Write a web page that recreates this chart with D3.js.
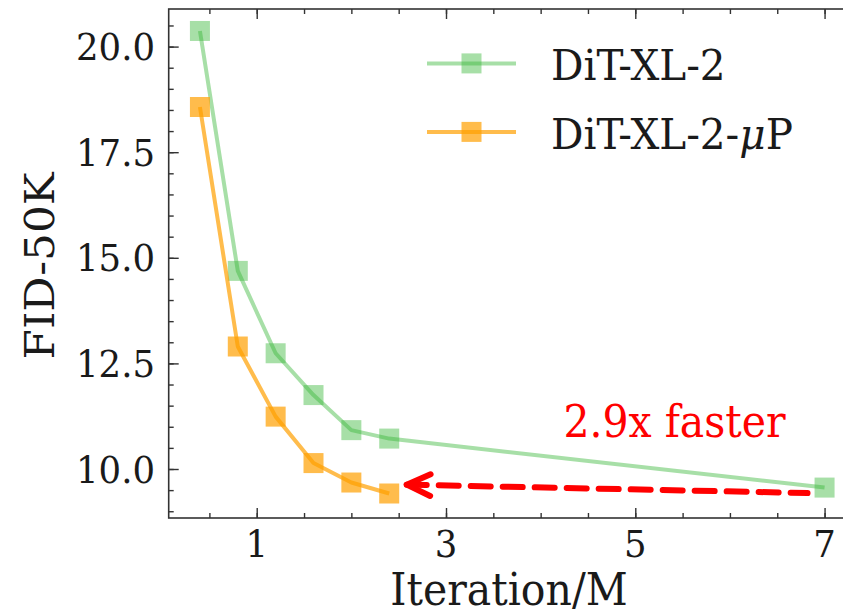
<!DOCTYPE html>
<html>
<head>
<meta charset="utf-8">
<script src="https://cdn.jsdelivr.net/npm/d3@7"></script>
<style>
  html, body { margin: 0; padding: 0; background: #fff; }
  svg { display: block; }
  text { font-family: "DejaVu Serif", serif; }
</style>
</head>
<body>
<svg id="chart" width="843" height="616"></svg>
<script>
// Training iterations (millions) and FID-50K for each run
const iterDiT = [0.4, 0.8, 1.2, 1.6, 2.0, 2.4, 7.0];
const fidDiT = [20.37, 14.69, 12.74, 11.75, 10.92, 10.72, 9.56];
const iterMuP = [0.4, 0.8, 1.2, 1.6, 2.0, 2.4];
const fidMuP = [18.57, 12.90, 11.24, 10.14, 9.68, 9.42];
const seriesNames = ["DiT-XL-2", "DiT-XL-2-"];
const xTickValues = [1, 3, 5, 7];
const yTickValues = [10.0, 12.5, 15.0, 17.5, 20.0];
const annotationText = "2.9x faster";
const arrowFrom = [6.82, 9.43];
const arrowTo = [2.585, 9.63];

const svg = d3.select("#chart");
const W = 843, H = 616;
svg.append("rect").attr("width", W).attr("height", H).attr("fill", "#fff");

const plotL = 168.7, plotR = 855.8, plotT = 9, plotB = 518;
const x = d3.scaleLinear().domain([0.07, 7.33]).range([plotL, plotR]);
const y = d3.scaleLinear().domain([8.84, 20.89]).range([plotB, plotT]);
const SY = 1.07; // vertical text stretch

const green = { color: "rgb(60,185,60)", alpha: 0.45 };
const orange = { color: "rgb(255,160,0)", alpha: 0.7 };

// Frame
const ink = "#333";
svg.append("rect")
  .attr("x", plotL).attr("y", plotT)
  .attr("width", plotR - plotL).attr("height", plotB - plotT)
  .attr("fill", "none").attr("stroke", ink).attr("stroke-width", 1.6);

// Inward ticks on all four sides
const xMinor = d3.range(0.5, 7.01, 0.5);
const yMinor = d3.range(9.0, 20.51, 0.5);
function tickLines(axisGen, transform) {
  const g = svg.append("g").attr("transform", transform).call(axisGen);
  g.select(".domain").remove();
  g.selectAll(".tick line").attr("stroke", ink).attr("stroke-width", 1.4);
  g.selectAll("text").remove();
}
tickLines(d3.axisBottom(x).tickValues(xMinor).tickSize(-5), `translate(0,${plotB})`);
tickLines(d3.axisBottom(x).tickValues(xTickValues).tickSize(-10), `translate(0,${plotB})`);
tickLines(d3.axisTop(x).tickValues(xMinor).tickSize(-5), `translate(0,${plotT})`);
tickLines(d3.axisTop(x).tickValues(xTickValues).tickSize(-10), `translate(0,${plotT})`);
tickLines(d3.axisLeft(y).tickValues(yMinor).tickSize(-5), `translate(${plotL},0)`);
tickLines(d3.axisLeft(y).tickValues(yTickValues).tickSize(-10), `translate(${plotL},0)`);
tickLines(d3.axisRight(y).tickValues(yMinor).tickSize(-5), `translate(${plotR},0)`);
tickLines(d3.axisRight(y).tickValues(yTickValues).tickSize(-10), `translate(${plotR},0)`);

// Tick labels
svg.append("g").selectAll("g").data(xTickValues).join("g")
  .attr("transform", d => `translate(${x(d)},557) scale(1,${SY})`)
  .append("text").attr("text-anchor", "middle")
  .attr("font-size", 35.5).attr("fill", "#1a1a1a").text(d => d3.format("d")(d));

svg.append("g").selectAll("g").data(yTickValues).join("g")
  .attr("transform", d => `translate(155,${y(d) + 13.6}) scale(1,${SY})`)
  .append("text").attr("text-anchor", "end")
  .attr("font-size", 35.5).attr("fill", "#1a1a1a").text(d => d3.format(".1f")(d));

// Axis titles
svg.append("g").attr("transform", `translate(509,605) scale(1,${SY})`)
  .append("text").attr("text-anchor", "middle").attr("font-size", 41)
  .attr("fill", "#1a1a1a").text("Iteration/M");
svg.append("g").attr("transform", `translate(54,266) scale(1,${SY}) rotate(-90)`)
  .append("text").attr("text-anchor", "middle").attr("font-size", 41)
  .attr("fill", "#1a1a1a").text("FID-50K");

// Series
const line = d3.line().x(d => x(d[0])).y(d => y(d[1]));
const MS = 20;
function drawSeries(xs, ys, style) {
  const pts = xs.map((v, i) => [v, ys[i]]);
  svg.append("path").datum(pts)
    .attr("d", line).attr("fill", "none")
    .attr("stroke", style.color).attr("stroke-opacity", style.alpha)
    .attr("stroke-width", 4).attr("stroke-linejoin", "round");
  svg.append("g").selectAll("rect").data(pts).join("rect")
    .attr("x", d => x(d[0]) - MS / 2).attr("y", d => y(d[1]) - MS / 2)
    .attr("width", MS).attr("height", MS)
    .attr("fill", style.color).attr("fill-opacity", style.alpha);
}
drawSeries(iterDiT, fidDiT, green);
drawSeries(iterMuP, fidMuP, orange);

// Legend
const legendRows = [
  { name: seriesNames[0], style: green, cy: 63.4, mu: false },
  { name: seriesNames[1], style: orange, cy: 131.9, mu: true }
];
legendRows.forEach(r => {
  const g = svg.append("g");
  g.append("line").attr("x1", 427).attr("x2", 516).attr("y1", r.cy).attr("y2", r.cy)
    .attr("stroke", r.style.color).attr("stroke-opacity", r.style.alpha).attr("stroke-width", 4);
  g.append("rect").attr("x", 471.5 - MS / 2).attr("y", r.cy - MS / 2)
    .attr("width", MS).attr("height", MS)
    .attr("fill", r.style.color).attr("fill-opacity", r.style.alpha);
  const t = g.append("g").attr("transform", `translate(551,${r.cy + 16.6}) scale(1,${SY})`)
    .append("text").attr("font-size", 40.5).attr("fill", "#1a1a1a");
  t.append("tspan").text(r.name);
  if (r.mu) {
    t.append("tspan").attr("font-style", "italic").text("μ");
    t.append("tspan").text("P");
  }
});

// Annotation arrow
const red = "#ff0000";
const tip = [x(arrowTo[0]), y(arrowTo[1])];
const tail = [x(arrowFrom[0]), y(arrowFrom[1])];
svg.append("path")
  .attr("d", `M${tip[0]},${tip[1]} L${tail[0]},${tail[1]}`)
  .attr("fill", "none").attr("stroke", red).attr("stroke-width", 6)
  .attr("stroke-linecap", "round").attr("stroke-dasharray", "20 12");
const ang = Math.atan2(tail[1] - tip[1], tail[0] - tip[0]);
const headLen = 26, headAng = 0.43;
const a1 = [tip[0] + headLen * Math.cos(ang - headAng), tip[1] + headLen * Math.sin(ang - headAng)];
const a2 = [tip[0] + headLen * Math.cos(ang + headAng), tip[1] + headLen * Math.sin(ang + headAng)];
svg.append("path")
  .attr("d", `M${a1[0]},${a1[1]} L${tip[0]},${tip[1]} L${a2[0]},${a2[1]}`)
  .attr("fill", "none").attr("stroke", red).attr("stroke-width", 6)
  .attr("stroke-linecap", "round").attr("stroke-linejoin", "round");

svg.append("g").attr("transform", `translate(674.5,436.7) scale(1,${SY})`)
  .append("text").attr("text-anchor", "middle").attr("font-size", 41)
  .attr("fill", red).text(annotationText);
</script>
</body>
</html>
